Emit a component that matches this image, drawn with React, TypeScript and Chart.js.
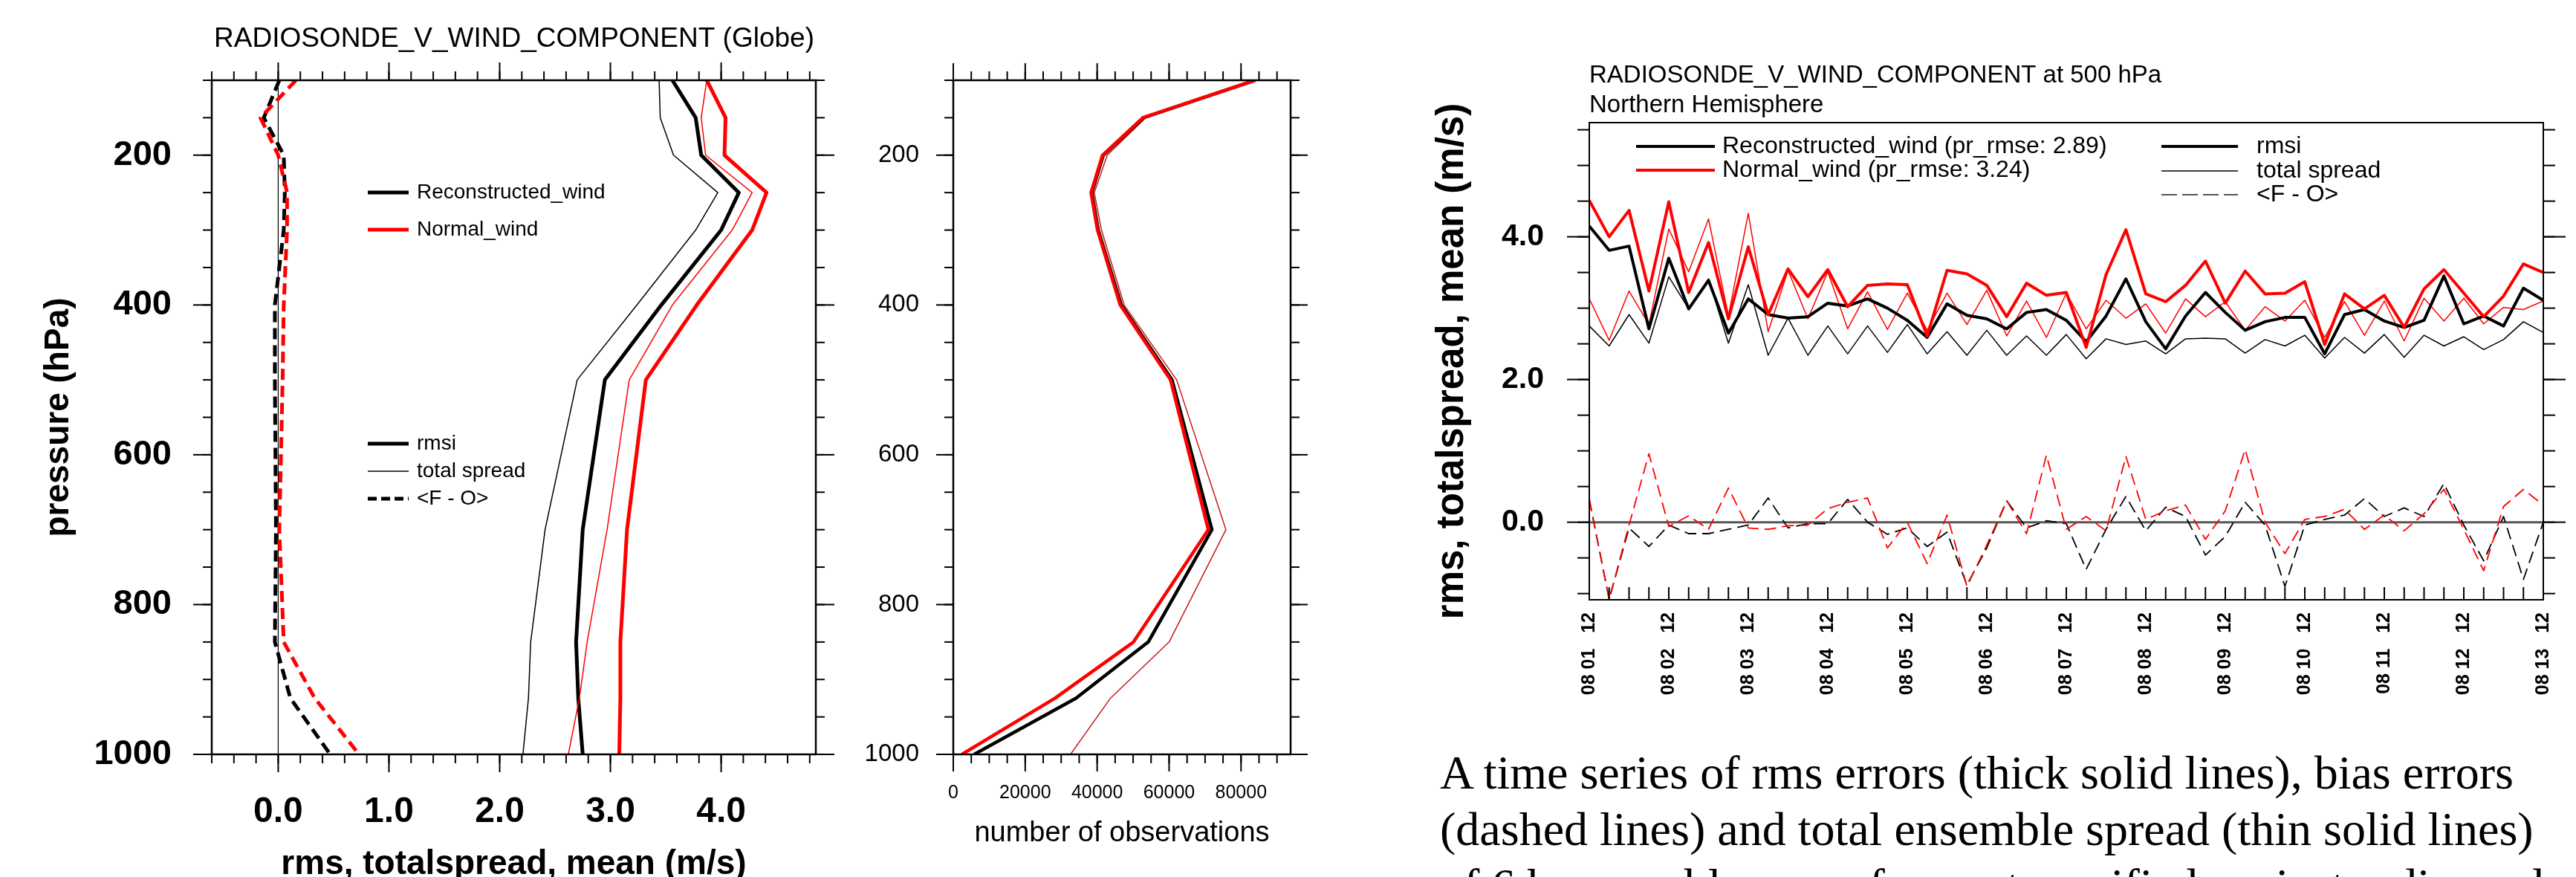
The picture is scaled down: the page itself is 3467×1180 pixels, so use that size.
import React, { useEffect, useRef } from 'react';
import { Chart, registerables } from 'chart.js';

Chart.register(...registerables);

const SANS = '"Liberation Sans", Arial, Helvetica, sans-serif';
const SERIF = '"Liberation Serif", "Times New Roman", serif';

// ---------- Left panel: vertical profiles (Globe) ----------
const pressureLevels = [100, 150, 200, 250, 300, 400, 500, 700, 850, 925, 1000];
const reconRmsiProfile = [3.56, 3.77, 3.82, 4.16, 4.0, 3.46, 2.95, 2.75, 2.69, 2.71, 2.75];
const reconSpreadProfile = [3.44, 3.45, 3.57, 3.97, 3.77, 3.24, 2.7, 2.41, 2.28, 2.26, 2.21];
const reconBiasProfile = [0.01, -0.13, 0.05, 0.06, 0.05, -0.03, -0.03, -0.02, -0.03, 0.11, 0.47];
const normalRmsiProfile = [3.87, 4.04, 4.03, 4.41, 4.28, 3.78, 3.32, 3.15, 3.09, 3.09, 3.08];
const normalSpreadProfile = [3.87, 3.82, 3.86, 4.28, 4.1, 3.56, 3.17, 2.97, 2.79, 2.72, 2.62];
const normalBiasProfile = [0.16, -0.16, 0.0, 0.08, 0.08, 0.05, 0.04, 0.01, 0.05, 0.33, 0.73];
const profileXTicks = [0, 1, 2, 3, 4];
const pressureTicks = [200, 400, 600, 800, 1000];

// ---------- Middle panel: number of observations ----------
const obsCountNormal = [83900, 52700, 41500, 38300, 40100, 46400, 60400, 70900, 50100, 28300, 2400];
const obsCountRecon = [83900, 52900, 41700, 38500, 40300, 46700, 60800, 71900, 54200, 34100, 5800];
const obsCountTotal = [83900, 53500, 42800, 39200, 41200, 47500, 62100, 75800, 60000, 43700, 32600];
const obsTicks = [0, 20000, 40000, 60000, 80000];

// ---------- Right panel: time series at 500 hPa (Northern Hemisphere), 6-hourly ----------
const dayLabels = [
  '08 01   12', '08 02   12', '08 03   12', '08 04   12', '08 05   12', '08 06   12', '08 07   12',
  '08 08   12', '08 09   12', '08 10   12', '08 11   12', '08 12   12', '08 13   12',
];
const rmsiNormalTS = [
  4.51, 4.0, 4.37, 3.24, 4.49, 3.22, 3.92, 2.85, 3.86, 2.91,
  3.55, 3.16, 3.54, 3.02, 3.32, 3.34, 3.33, 2.61, 3.53, 3.48,
  3.32, 2.88, 3.35, 3.18, 3.22, 2.45, 3.47, 4.1, 3.2, 3.09,
  3.32, 3.66, 3.07, 3.52, 3.2, 3.21, 3.37, 2.49, 3.2, 2.99,
  3.18, 2.73, 3.27, 3.54, 3.21, 2.88, 3.17, 3.62, 3.5,
];
const rmsiReconTS = [
  4.15, 3.81, 3.87, 2.71, 3.7, 2.99, 3.39, 2.65, 3.13, 2.91,
  2.86, 2.88, 3.07, 3.03, 3.13, 3.0, 2.83, 2.59, 3.06, 2.9,
  2.85, 2.71, 2.94, 2.98, 2.83, 2.53, 2.89, 3.41, 2.81, 2.43,
  2.89, 3.22, 2.94, 2.69, 2.81, 2.87, 2.87, 2.36, 2.91, 2.98,
  2.82, 2.73, 2.83, 3.45, 2.78, 2.89, 2.75, 3.28, 3.11,
];
const spreadNormalTS = [
  3.13, 2.55, 3.24, 2.77, 4.11, 3.51, 4.25, 2.89, 4.33, 2.67,
  3.53, 2.85, 3.51, 2.71, 3.23, 2.7, 3.21, 2.69, 3.21, 2.77,
  3.25, 2.61, 3.1, 2.59, 3.21, 2.71, 3.11, 2.86, 3.06, 2.65,
  3.13, 2.88, 3.09, 2.69, 3.02, 2.82, 3.11, 2.59, 3.09, 2.62,
  3.1, 2.54, 3.14, 2.82, 3.14, 2.78, 3.01, 2.98, 3.1,
];
const spreadReconTS = [
  2.75, 2.47, 2.91, 2.51, 3.44, 2.99, 3.41, 2.51, 3.33, 2.34,
  2.86, 2.34, 2.75, 2.36, 2.75, 2.38, 2.77, 2.36, 2.67, 2.34,
  2.69, 2.34, 2.61, 2.34, 2.63, 2.29, 2.57, 2.49, 2.54, 2.36,
  2.57, 2.58, 2.57, 2.37, 2.56, 2.47, 2.62, 2.3, 2.59, 2.37,
  2.63, 2.31, 2.62, 2.47, 2.6, 2.42, 2.56, 2.81, 2.66,
];
const biasNormalTS = [
  0.32, -1.08, -0.04, 0.96, -0.06, 0.09, -0.1, 0.48, -0.08, -0.1,
  -0.05, -0.04, 0.19, 0.28, 0.34, -0.36, 0.0, -0.58, 0.1, -0.9,
  -0.32, 0.3, -0.16, 0.94, -0.1, 0.08, -0.12, 0.92, 0.04, 0.16,
  0.24, -0.24, 0.16, 1.02, 0.0, -0.44, 0.04, 0.08, 0.18, -0.1,
  0.1, -0.12, 0.12, 0.46, -0.1, -0.68, 0.22, 0.46, 0.24,
];
const biasReconTS = [
  0.32, -1.08, -0.08, -0.34, -0.04, -0.16, -0.16, -0.1, -0.04, 0.34,
  -0.08, -0.02, -0.02, 0.32, 0.0, -0.17, -0.08, -0.34, -0.14, -0.88,
  -0.36, 0.3, -0.08, 0.02, -0.02, -0.66, -0.1, 0.36, -0.12, 0.21,
  0.08, -0.46, -0.2, 0.28, -0.04, -0.9, -0.04, 0.04, 0.1, 0.33,
  0.08, 0.2, 0.08, 0.54, -0.04, -0.54, 0.08, -0.8, 0.0,
];
const tsYTicks = [0, 2, 4];

const captionLines = [
  'A time series of rms errors (thick solid lines), bias errors',
  '(dashed lines) and total ensemble spread (thin solid lines)',
  'of 6 h ensemble mean forecasts verified against radiosonde',
];

const RED = '#ff0000';
const BLACK = '#000000';

// ---------- helpers ----------
type Pt = { x: number; y: number };
const profile = (vals: number[]): Pt[] => vals.map((v, i) => ({ x: v, y: pressureLevels[i] }));
const series = (vals: number[]): Pt[] => vals.map((v, i) => ({ x: i, y: v }));
const range = (a: number, b: number, s: number) => {
  const r: number[] = [];
  for (let v = a; v <= b + s * 1e-6; v += s) r.push(+v.toFixed(6));
  return r;
};

const line = (label: string, data: Pt[], color: string, width: number, dash: number[] = []) => ({
  label,
  data,
  borderColor: color,
  backgroundColor: color,
  borderWidth: width,
  borderDash: dash,
  pointRadius: 0,
  pointHoverRadius: 0,
  fill: false,
  tension: 0,
  borderJoinStyle: 'round',
  borderCapStyle: 'butt',
});

interface TickSet { side: 'top' | 'bottom' | 'left' | 'right'; values: number[]; len: number; out: boolean }
interface LegendItem { x1: number; x2: number; y: number; color: string; width: number; dash?: number[]; label: string; tx: number; font: string }
interface TextItem { text: string; x: number; y: number; font: string; align: CanvasTextAlign }
interface FrameSpec { ox: number; oy: number; box: number; tickWidth: number; ticks: TickSet[]; legend: LegendItem[]; texts: TextItem[] }

function framePlugin(spec: FrameSpec) {
  return {
    id: 'frame',
    afterDraw(chart: any) {
      const { ctx, chartArea: a } = chart;
      const xs = chart.scales.x;
      const ys = chart.scales.y;
      ctx.save();
      ctx.strokeStyle = BLACK;
      ctx.lineCap = 'butt';
      ctx.setLineDash([]);
      ctx.lineWidth = spec.tickWidth;
      for (const t of spec.ticks) {
        for (const v of t.values) {
          ctx.beginPath();
          if (t.side === 'top' || t.side === 'bottom') {
            const px = xs.getPixelForValue(v);
            const y0 = t.side === 'top' ? a.top : a.bottom;
            const dir = (t.side === 'top' ? -1 : 1) * (t.out ? 1 : -1);
            ctx.moveTo(px, y0);
            ctx.lineTo(px, y0 + dir * t.len);
          } else {
            const py = ys.getPixelForValue(v);
            const x0 = t.side === 'left' ? a.left : a.right;
            const dir = (t.side === 'left' ? -1 : 1) * (t.out ? 1 : -1);
            ctx.moveTo(x0, py);
            ctx.lineTo(x0 + dir * t.len, py);
          }
          ctx.stroke();
        }
      }
      ctx.lineWidth = spec.box;
      ctx.strokeRect(a.left, a.top, a.right - a.left, a.bottom - a.top);
      for (const l of spec.legend) {
        ctx.beginPath();
        ctx.strokeStyle = l.color;
        ctx.lineWidth = l.width;
        ctx.setLineDash(l.dash || []);
        ctx.moveTo(l.x1 - spec.ox, l.y - spec.oy);
        ctx.lineTo(l.x2 - spec.ox, l.y - spec.oy);
        ctx.stroke();
        ctx.setLineDash([]);
        ctx.fillStyle = BLACK;
        ctx.font = l.font;
        ctx.textAlign = 'left';
        ctx.textBaseline = 'middle';
        ctx.fillText(l.label, l.tx - spec.ox, l.y - spec.oy);
      }
      for (const t of spec.texts) {
        ctx.fillStyle = BLACK;
        ctx.font = t.font;
        ctx.textAlign = t.align;
        ctx.textBaseline = 'alphabetic';
        ctx.fillText(t.text, t.x - spec.ox, t.y - spec.oy);
      }
      ctx.restore();
    },
  };
}

const noGrid = { display: false, drawTicks: false };
const noBorder = { display: false };

function baseOptions(padding: any, scales: any) {
  return {
    responsive: false,
    maintainAspectRatio: false,
    animation: false,
    devicePixelRatio: 1,
    events: [],
    layout: { padding },
    plugins: { legend: { display: false }, tooltip: { enabled: false }, title: { display: false } },
    scales,
  };
}

// ---------- Chart configs ----------
function leftConfig(): any {
  const xMinor = range(-0.6, 4.8, 0.2);
  const yMinor = range(100, 1000, 50);
  const spec: FrameSpec = {
    ox: 0, oy: 0, box: 2.5, tickWidth: 2,
    ticks: [
      { side: 'bottom', values: xMinor, len: 12, out: true },
      { side: 'bottom', values: profileXTicks, len: 24, out: true },
      { side: 'top', values: xMinor, len: 12, out: true },
      { side: 'top', values: profileXTicks, len: 24, out: true },
      { side: 'left', values: yMinor, len: 12, out: true },
      { side: 'left', values: pressureTicks, len: 25, out: true },
      { side: 'right', values: yMinor, len: 12, out: true },
      { side: 'right', values: pressureTicks, len: 25, out: true },
    ],
    legend: [
      { x1: 495, x2: 550, y: 259, color: BLACK, width: 5, label: 'Reconstructed_wind', tx: 561, font: `28px ${SANS}` },
      { x1: 495, x2: 550, y: 309, color: RED, width: 5, label: 'Normal_wind', tx: 561, font: `28px ${SANS}` },
      { x1: 495, x2: 550, y: 597, color: BLACK, width: 5, label: 'rmsi', tx: 561, font: `28px ${SANS}` },
      { x1: 495, x2: 550, y: 634, color: BLACK, width: 1.5, label: 'total spread', tx: 561, font: `28px ${SANS}` },
      { x1: 495, x2: 550, y: 671, color: BLACK, width: 5, dash: [12, 6], label: '<F - O>', tx: 561, font: `28px ${SANS}` },
    ],
    texts: [{ text: 'RADIOSONDE_V_WIND_COMPONENT (Globe)', x: 692, y: 63, font: `37px ${SANS}`, align: 'center' }],
  };
  return {
    type: 'line',
    data: {
      datasets: [
        line('Normal_wind rmsi', profile(normalRmsiProfile), RED, 5),
        line('Normal_wind total spread', profile(normalSpreadProfile), RED, 1.5),
        line('Normal_wind <F - O>', profile(normalBiasProfile), RED, 5, [15, 8]),
        line('Reconstructed_wind rmsi', profile(reconRmsiProfile), BLACK, 5),
        line('Reconstructed_wind total spread', profile(reconSpreadProfile), BLACK, 1.5),
        line('Reconstructed_wind <F - O>', profile(reconBiasProfile), BLACK, 5, [15, 8]),
        line('zero', [{ x: 0, y: 100 }, { x: 0, y: 1000 }], BLACK, 1.2),
      ],
    },
    options: baseOptions({ left: 0, top: 108, right: 52, bottom: 0 }, {
      x: {
        type: 'linear', position: 'bottom', min: -0.6, max: 4.855, bounds: 'data',
        afterBuildTicks: (s: any) => { s.ticks = profileXTicks.map((v) => ({ value: v })); },
        afterFit: (s: any) => { s.height = 215; },
        grid: noGrid, border: noBorder,
        ticks: {
          autoSkip: false, maxRotation: 0, minRotation: 0, padding: 49, color: BLACK,
          font: { family: SANS, size: 48, weight: 'bold' },
          callback: (v: number) => Number(v).toFixed(1),
        },
        title: {
          display: true, text: 'rms, totalspread, mean (m/s)', color: BLACK,
          font: { family: SANS, size: 46, weight: 'bold' }, padding: { top: 0, bottom: 38.7 },
        },
      },
      y: {
        type: 'linear', position: 'left', min: 100, max: 1000, reverse: true, bounds: 'data',
        afterBuildTicks: (s: any) => { s.ticks = pressureTicks.map((v) => ({ value: v })); },
        afterFit: (s: any) => { s.width = 285; },
        grid: noGrid, border: noBorder,
        ticks: {
          autoSkip: false, padding: 54, color: BLACK,
          font: { family: SANS, size: 47, weight: 'bold' },
          callback: (v: number) => String(v),
        },
        title: {
          display: true, text: 'pressure (hPa)', color: BLACK,
          font: { family: SANS, size: 46, weight: 'bold' }, padding: { top: 52, bottom: 0 },
        },
      },
    }),
    plugins: [framePlugin(spec)],
  };
}

function middleConfig(): any {
  const xMinor = range(0, 90000, 5000);
  const yMinor = range(100, 1000, 50);
  const spec: FrameSpec = {
    ox: 1150, oy: 0, box: 2.5, tickWidth: 2,
    ticks: [
      { side: 'bottom', values: xMinor, len: 12, out: true },
      { side: 'bottom', values: obsTicks, len: 23, out: true },
      { side: 'top', values: xMinor, len: 12, out: true },
      { side: 'top', values: obsTicks, len: 23, out: true },
      { side: 'left', values: yMinor, len: 12, out: true },
      { side: 'left', values: pressureTicks, len: 23, out: true },
      { side: 'right', values: yMinor, len: 12, out: true },
      { side: 'right', values: pressureTicks, len: 23, out: true },
    ],
    legend: [],
    texts: [],
  };
  const profObs = (vals: number[]): Pt[] => vals.map((v, i) => ({ x: v, y: pressureLevels[i] }));
  return {
    type: 'line',
    data: {
      datasets: [
        line('Normal_wind', profObs(obsCountNormal), RED, 4.5),
        line('Reconstructed_wind', profObs(obsCountRecon), BLACK, 4.5),
        line('total', profObs(obsCountTotal), '#c81818', 1.5),
      ],
    },
    options: baseOptions({ left: 0, top: 108, right: 63, bottom: 0 }, {
      x: {
        type: 'linear', position: 'bottom', min: 0, max: 93780, bounds: 'data',
        afterBuildTicks: (s: any) => { s.ticks = obsTicks.map((v) => ({ value: v })); },
        afterFit: (s: any) => { s.height = 215; },
        grid: noGrid, border: noBorder,
        ticks: {
          autoSkip: false, maxRotation: 0, minRotation: 0, padding: 37, color: BLACK,
          font: { family: SANS, size: 25 },
          callback: (v: number) => String(v),
        },
        title: {
          display: true, text: 'number of observations', color: BLACK,
          font: { family: SANS, size: 38 }, padding: { top: 0, bottom: 85.7 },
        },
      },
      y: {
        type: 'linear', position: 'left', min: 100, max: 1000, reverse: true, bounds: 'data',
        afterBuildTicks: (s: any) => { s.ticks = pressureTicks.map((v) => ({ value: v })); },
        afterFit: (s: any) => { s.width = 133; },
        grid: noGrid, border: noBorder,
        ticks: {
          autoSkip: false, padding: 46, color: BLACK,
          font: { family: SANS, size: 33 },
          callback: (v: number) => String(v),
        },
      },
    }),
    plugins: [framePlugin(spec)],
  };
}

function rightConfig(): any {
  const xAll = range(0, 48, 1);
  const xMajor = range(0, 48, 4);
  const yMinor = range(-1, 5.5, 0.5);
  const lf = `32px ${SANS}`;
  const spec: FrameSpec = {
    ox: 1800, oy: 0, box: 2, tickWidth: 2,
    ticks: [
      { side: 'bottom', values: xAll, len: 17, out: false },
      { side: 'left', values: yMinor, len: 16, out: true },
      { side: 'left', values: tsYTicks, len: 30, out: true },
      { side: 'right', values: yMinor, len: 16, out: true },
      { side: 'right', values: tsYTicks, len: 30, out: true },
    ],
    legend: [
      { x1: 2202, x2: 2308, y: 197, color: BLACK, width: 4, label: 'Reconstructed_wind (pr_rmse: 2.89)', tx: 2318, font: lf },
      { x1: 2202, x2: 2308, y: 229, color: RED, width: 4, label: 'Normal_wind (pr_rmse: 3.24)', tx: 2318, font: lf },
      { x1: 2909, x2: 3012, y: 197, color: BLACK, width: 4, label: 'rmsi', tx: 3037, font: lf },
      { x1: 2909, x2: 3012, y: 230, color: BLACK, width: 1.5, label: 'total spread', tx: 3037, font: lf },
      { x1: 2909, x2: 3012, y: 262, color: '#555555', width: 2, dash: [21, 7], label: '<F - O>', tx: 3037, font: lf },
    ],
    texts: [
      { text: 'RADIOSONDE_V_WIND_COMPONENT at 500 hPa', x: 2139, y: 111, font: `33px ${SANS}`, align: 'left' },
      { text: 'Northern Hemisphere', x: 2139, y: 151, font: `33px ${SANS}`, align: 'left' },
    ],
  };
  return {
    type: 'line',
    data: {
      datasets: [
        line('Normal_wind rmsi', series(rmsiNormalTS), RED, 4),
        line('Reconstructed_wind rmsi', series(rmsiReconTS), BLACK, 4),
        line('Normal_wind total spread', series(spreadNormalTS), RED, 1.5),
        line('Reconstructed_wind total spread', series(spreadReconTS), BLACK, 1.5),
        line('Normal_wind <F - O>', series(biasNormalTS), RED, 1.8, [16, 8]),
        line('Reconstructed_wind <F - O>', series(biasReconTS), BLACK, 1.8, [16, 8]),
        line('zero', [{ x: 0, y: 0 }, { x: 48, y: 0 }], '#555555', 3),
      ],
    },
    options: baseOptions({ left: 0, top: 165, right: 77, bottom: 0 }, {
      x: {
        type: 'linear', position: 'bottom', min: 0, max: 48, bounds: 'data',
        afterBuildTicks: (s: any) => { s.ticks = xMajor.map((v) => ({ value: v })); },
        afterFit: (s: any) => { s.height = 423; },
        grid: noGrid, border: noBorder,
        ticks: {
          autoSkip: false, maxRotation: 90, minRotation: 90, padding: 17, color: BLACK,
          font: { family: SANS, size: 25, weight: 'bold' },
          callback: (v: number) => dayLabels[Math.round(Number(v) / 4)],
        },
      },
      y: {
        type: 'linear', position: 'left', min: -1.087, max: 5.6, bounds: 'data',
        afterBuildTicks: (s: any) => { s.ticks = tsYTicks.map((v) => ({ value: v })); },
        afterFit: (s: any) => { s.width = 339; },
        grid: noGrid, border: noBorder,
        ticks: {
          autoSkip: false, padding: 61, color: BLACK,
          font: { family: SANS, size: 41, weight: 'bold' },
          callback: (v: number) => Number(v).toFixed(1),
        },
        title: {
          display: true, text: 'rms, totalspread, mean (m/s)', color: BLACK,
          font: { family: SANS, size: 51, weight: 'bold' }, padding: { top: 124, bottom: 0 },
        },
      },
    }),
    plugins: [framePlugin(spec)],
  };
}

export default function App() {
  const leftRef = useRef<HTMLCanvasElement>(null);
  const midRef = useRef<HTMLCanvasElement>(null);
  const rightRef = useRef<HTMLCanvasElement>(null);

  useEffect(() => {
    Chart.defaults.font.family = SANS;
    Chart.defaults.color = BLACK;
    const charts: Chart[] = [];
    if (leftRef.current) charts.push(new Chart(leftRef.current, leftConfig()));
    if (midRef.current) charts.push(new Chart(midRef.current, middleConfig()));
    if (rightRef.current) charts.push(new Chart(rightRef.current, rightConfig()));
    return () => charts.forEach((c) => c.destroy());
  }, []);

  const canvasStyle = (left: number, w: number, h: number): React.CSSProperties => ({
    position: 'absolute', left, top: 0, width: w, height: h, display: 'block',
  });

  return (
    <div style={{ position: 'fixed', left: 0, top: 0, width: 3467, height: 1180, overflow: 'hidden', background: '#ffffff' }}>
      <canvas ref={leftRef} width={1150} height={1230} style={canvasStyle(0, 1150, 1230)} />
      <canvas ref={midRef} width={650} height={1230} style={canvasStyle(1150, 650, 1230)} />
      <canvas ref={rightRef} width={1700} height={1230} style={canvasStyle(1800, 1700, 1230)} />
      <div
        style={{
          position: 'absolute', left: 1938, top: 1002, fontFamily: SERIF, fontSize: 64,
          lineHeight: '76px', whiteSpace: 'pre', color: '#000',
        }}
      >
        {captionLines.map((t, i) => (
          <div key={i}>{t}</div>
        ))}
      </div>
    </div>
  );
}
